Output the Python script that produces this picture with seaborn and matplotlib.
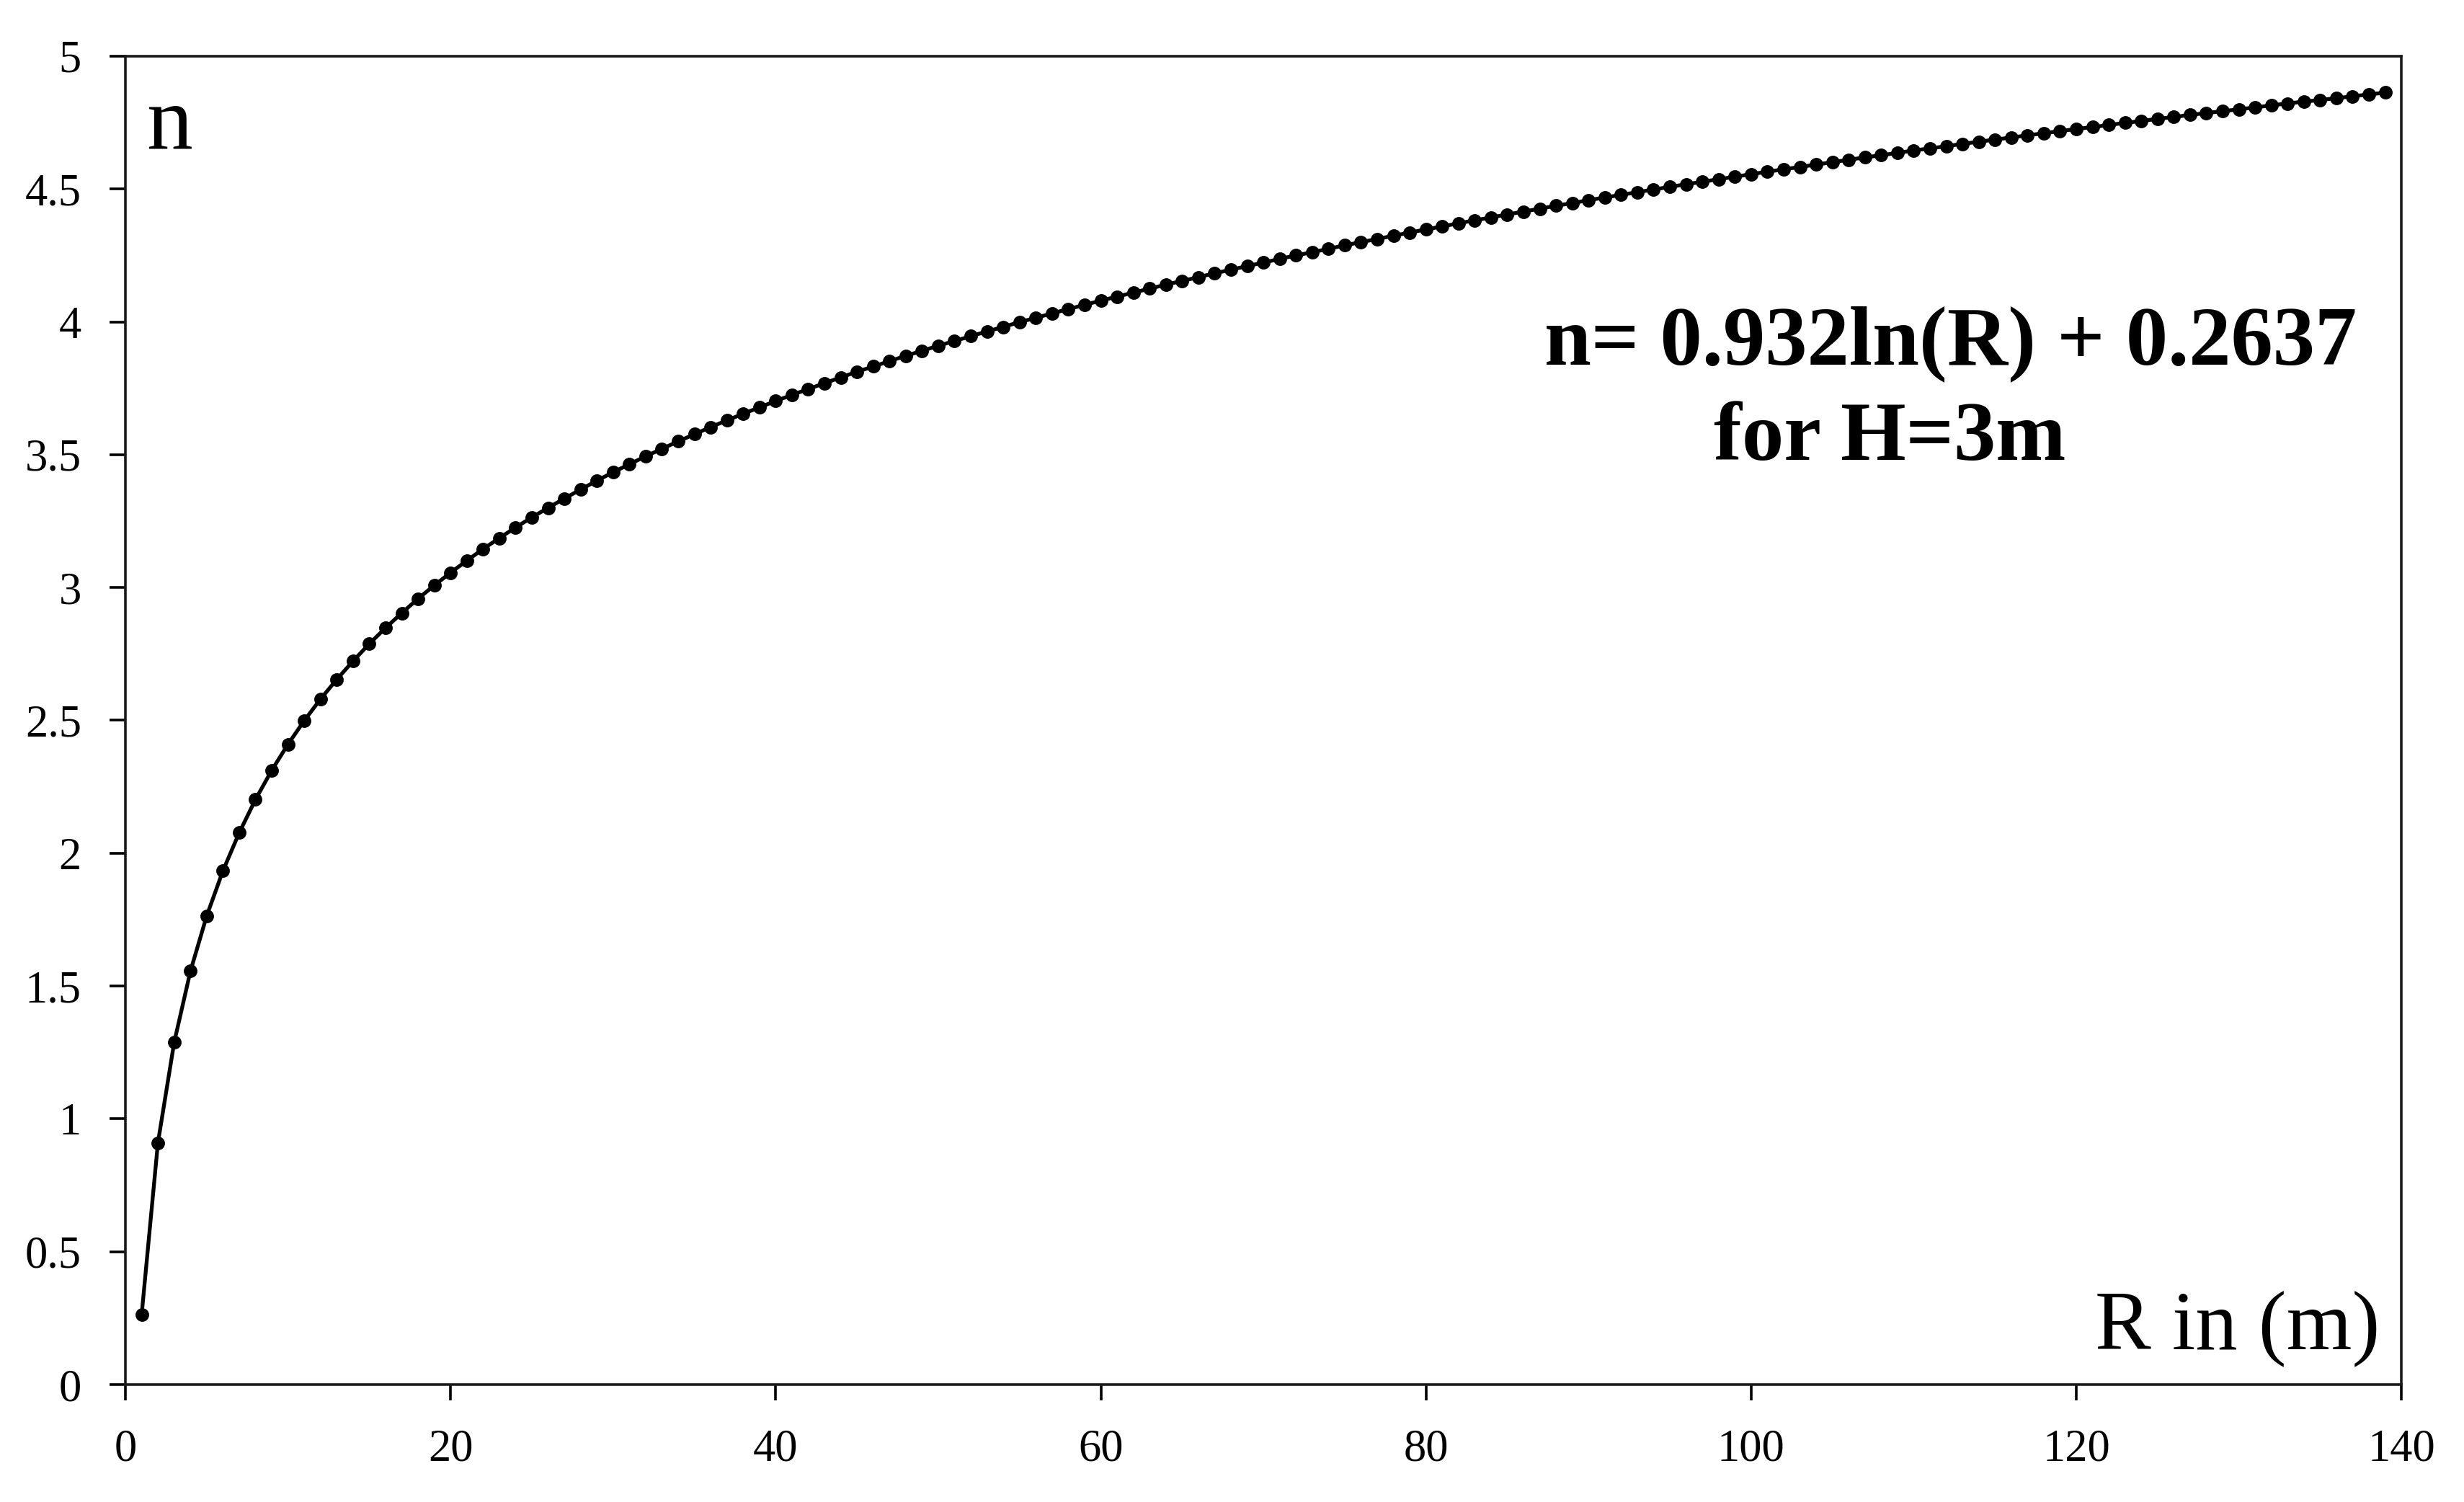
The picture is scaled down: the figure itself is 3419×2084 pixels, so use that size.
import numpy as np
import pandas as pd
import matplotlib
matplotlib.use("Agg")
import matplotlib.pyplot as plt
import seaborn as sns

# R in (m), one point per metre
radius = list(range(1, 140))

# n
n_values = [
    0.264, 0.910, 1.288, 1.556, 1.764, 1.934, 2.077, 2.202, 2.312, 2.410,
    2.499, 2.580, 2.654, 2.723, 2.788, 2.848, 2.904, 2.958, 3.008, 3.056,
    3.101, 3.145, 3.186, 3.226, 3.264, 3.300, 3.335, 3.369, 3.402, 3.434,
    3.464, 3.494, 3.522, 3.550, 3.577, 3.604, 3.629, 3.654, 3.678, 3.702,
    3.725, 3.747, 3.769, 3.791, 3.812, 3.832, 3.852, 3.872, 3.891, 3.910,
    3.928, 3.946, 3.964, 3.981, 3.999, 4.015, 4.032, 4.048, 4.064, 4.080,
    4.095, 4.110, 4.125, 4.140, 4.154, 4.168, 4.183, 4.196, 4.210, 4.223,
    4.237, 4.250, 4.262, 4.275, 4.288, 4.300, 4.312, 4.324, 4.336, 4.348,
    4.359, 4.371, 4.382, 4.393, 4.404, 4.415, 4.426, 4.437, 4.447, 4.458,
    4.468, 4.478, 4.488, 4.498, 4.508, 4.518, 4.527, 4.537, 4.546, 4.556,
    4.565, 4.574, 4.583, 4.592, 4.601, 4.610, 4.619, 4.627, 4.636, 4.645,
    4.653, 4.661, 4.670, 4.678, 4.686, 4.694, 4.702, 4.710, 4.718, 4.726,
    4.733, 4.741, 4.749, 4.756, 4.764, 4.771, 4.779, 4.786, 4.793, 4.800,
    4.807, 4.815, 4.822, 4.829, 4.835, 4.842, 4.849, 4.856, 4.863,
]

x_ticks = [0, 20, 40, 60, 80, 100, 120, 140]
y_ticks = [0, 0.5, 1, 1.5, 2, 2.5, 3, 3.5, 4, 4.5, 5]
y_tick_labels = ["0", "0.5", "1", "1.5", "2", "2.5", "3", "3.5", "4", "4.5", "5"]

df = pd.DataFrame({"R": radius, "n": n_values})

sns.set_style("ticks")
plt.rcParams["font.family"] = ["Liberation Serif", "DejaVu Serif"]
plt.rcParams["text.color"] = "black"

fig = plt.figure(figsize=(3419 / 200, 2084 / 200), dpi=200)
ax = fig.add_axes([0.0509, 0.0782, 0.9237, 0.8844])

sns.lineplot(data=df, x="R", y="n", ax=ax, color="black", linewidth=1.9,
             marker="o", markersize=6.8, markeredgewidth=0,
             markerfacecolor="black")

ax.set_xlim(0, 140)
ax.set_ylim(0, 5)
ax.set_xticks(x_ticks)
ax.set_yticks(y_ticks)
ax.set_yticklabels(y_tick_labels)
ax.set_xlabel("")
ax.set_ylabel("")

for side in ["left", "right", "top", "bottom"]:
    ax.spines[side].set_visible(True)
    ax.spines[side].set_linewidth(1.3)
    ax.spines[side].set_color("#1a1a1a")

ax.tick_params(axis="x", direction="out", length=8, width=1.3, pad=14,
               labelsize=22.5, colors="black", top=False)
ax.tick_params(axis="y", direction="out", length=8, width=1.3, pad=14,
               labelsize=22.5, colors="black", right=False)

# labels inside the frame
ax.text(1.3, 4.65, "n", fontsize=46, color="black", ha="left", va="baseline")
ax.text(138.7, 0.136, "R in (m)", fontsize=42, color="black",
        ha="right", va="baseline")

ax.text(87.3, 3.84, "n= 0.932ln(R) + 0.2637", fontsize=42, color="black",
        fontweight="bold", ha="left", va="baseline")
ax.text(97.7, 3.48, "for H=3m", fontsize=42, color="black",
        fontweight="bold", ha="left", va="baseline")

fig.savefig("out.png", dpi=200, facecolor="white")
